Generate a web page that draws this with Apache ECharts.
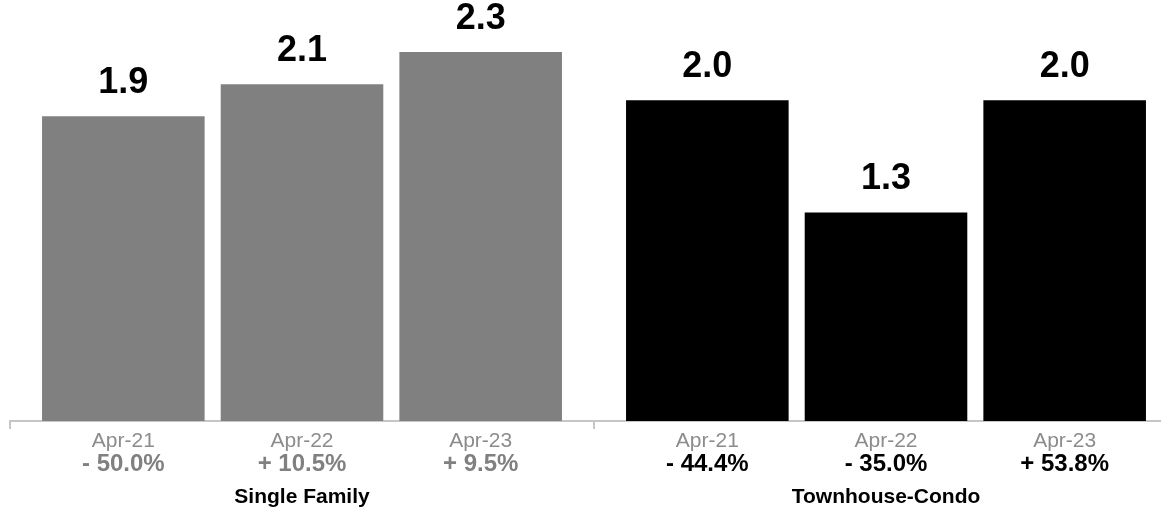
<!DOCTYPE html>
<html>
<head>
<meta charset="utf-8">
<style>
  html, body { margin: 0; padding: 0; background: #ffffff; }
  #chart { width: 1161px; height: 509px; }
</style>
<script src="https://cdn.jsdelivr.net/npm/echarts@6/dist/echarts.min.js"></script>
</head>
<body>
<div id="chart"></div>
<script>
// Months' supply of inventory, April of each year, by property type
const groups = ['Single Family', 'Townhouse-Condo'];
const periods = ['Apr-21', 'Apr-22', 'Apr-23'];
const singleFamily = [1.9, 2.1, 2.3];
const townhouseCondo = [2.0, 1.3, 2.0];
const singleFamilyChange = ['- 50.0%', '+ 10.5%', '+ 9.5%'];
const townhouseCondoChange = ['- 44.4%', '- 35.0%', '+ 53.8%'];

const FONT = '"Liberation Sans", Arial, Helvetica, sans-serif';
const GRAY = '#808080';
const BLACK = '#000000';
const RULE = '#c6c6c6';

// Period labels with the year-over-year change beneath; the group name sits under each block
function periodAxis(gridIndex, groupName, changes, pctColor) {
  return {
    type: 'category',
    gridIndex: gridIndex,
    data: periods,
    name: groupName,
    nameLocation: 'middle',
    nameGap: 65,
    nameTextStyle: {
      fontFamily: FONT, fontSize: 21, fontWeight: 'bold', color: '#000000', lineHeight: 22
    },
    axisLine: { show: false },
    axisTick: { show: false },
    axisLabel: {
      margin: 9,
      interval: 0,
      fontFamily: FONT,
      formatter: function (value, idx) {
        return '{p|' + value + '}\n{c|' + changes[idx] + '}';
      },
      rich: {
        p: { fontFamily: FONT, fontSize: 21, color: '#8c8c8c', lineHeight: 22, align: 'center' },
        c: { fontFamily: FONT, fontSize: 24, fontWeight: 'bold', color: pctColor, lineHeight: 24, align: 'center' }
      }
    }
  };
}

// Baseline rule under each block; the left one carries the end and divider ticks
function ruleAxis(gridIndex, withTicks) {
  return {
    type: 'category',
    gridIndex: gridIndex,
    data: [''],
    z: 0,
    axisLine: { show: true, lineStyle: { color: RULE, width: 2 } },
    axisTick: { show: withTicks, length: 8, lineStyle: { color: RULE, width: 2 } },
    axisLabel: { show: false }
  };
}

function valueAxis(gridIndex) {
  return { type: 'value', gridIndex: gridIndex, min: 0, max: 2.5, show: false };
}

function barSeries(axisIndex, values, color) {
  return {
    type: 'bar',
    xAxisIndex: axisIndex,
    yAxisIndex: axisIndex,
    data: values,
    barCategoryGap: '9%',
    itemStyle: { color: color },
    silent: true,
    label: {
      show: true,
      position: 'top',
      distance: 15,
      fontFamily: FONT,
      fontSize: 36,
      fontWeight: 'bold',
      color: '#000000',
      formatter: function (p) { return p.value.toFixed(1); }
    }
  };
}

const chart = echarts.init(document.getElementById('chart'), null, { renderer: 'canvas' });
chart.setOption({
  animation: false,
  backgroundColor: '#ffffff',
  grid: [
    { left: 34, width: 536, top: 20, bottom: 88, outerBoundsMode: 'none' },
    { left: 618, width: 536, top: 20, bottom: 88, outerBoundsMode: 'none' },
    { left: 10, width: 584, top: 20, bottom: 88, outerBoundsMode: 'none' },
    { left: 594, right: 0, top: 20, bottom: 88, outerBoundsMode: 'none' }
  ],
  xAxis: [
    periodAxis(0, groups[0], singleFamilyChange, GRAY),
    periodAxis(1, groups[1], townhouseCondoChange, BLACK),
    ruleAxis(2, true),
    ruleAxis(3, false)
  ],
  yAxis: [valueAxis(0), valueAxis(1), valueAxis(2), valueAxis(3)],
  series: [
    barSeries(0, singleFamily, GRAY),
    barSeries(1, townhouseCondo, BLACK)
  ]
});
</script>
</body>
</html>
